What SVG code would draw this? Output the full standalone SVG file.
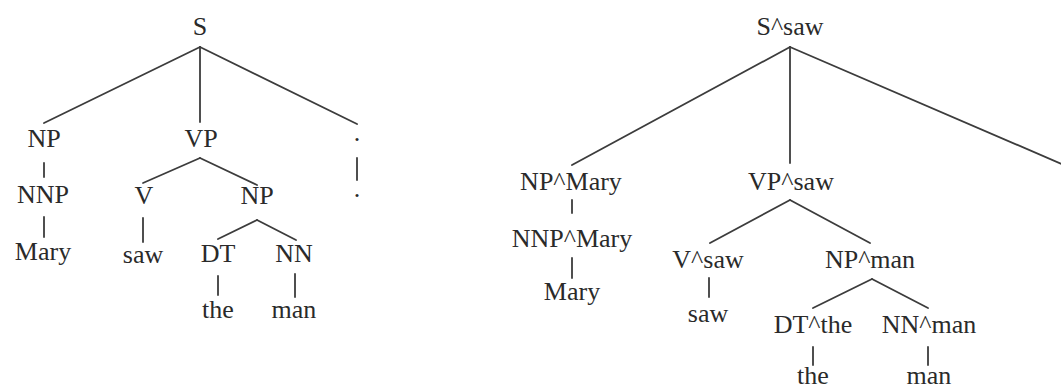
<svg xmlns="http://www.w3.org/2000/svg" width="1061" height="390" viewBox="0 0 1061 390">
  <style>
    .bg { fill: #ffffff; }
    .lbl { font-family: 'Liberation Serif', 'Times New Roman', 'DejaVu Serif', serif; font-size: 26px; fill: #2a2a2a; text-anchor: middle; }
    .edge { stroke: #3c3c3c; stroke-width: 1.8; fill: none; stroke-linecap: round; }
  </style>
  <rect class="bg" x="0" y="0" width="1061" height="390"/>

  <!-- plain parse tree -->
  <g id="connectors-plain">
    <line class="edge" x1="200" y1="47" x2="44" y2="123"/>
    <line class="edge" x1="200" y1="47" x2="200" y2="122"/>
    <line class="edge" x1="200" y1="47" x2="357" y2="124"/>
    <line class="edge" x1="44" y1="163" x2="44" y2="177"/>
    <line class="edge" x1="200" y1="158" x2="143" y2="183"/>
    <line class="edge" x1="200" y1="158" x2="257" y2="185"/>
    <line class="edge" x1="357" y1="158" x2="357" y2="180"/>
    <line class="edge" x1="44" y1="217" x2="44" y2="237"/>
    <line class="edge" x1="143" y1="218" x2="143" y2="242"/>
    <line class="edge" x1="257" y1="220" x2="218" y2="239"/>
    <line class="edge" x1="257" y1="220" x2="296" y2="240"/>
    <line class="edge" x1="218" y1="276" x2="218" y2="295"/>
    <line class="edge" x1="295" y1="274" x2="295" y2="297"/>
  </g>
  <g id="p-S"><text class="lbl" x="200" y="35">S</text></g>
  <g id="p-NP"><text class="lbl" x="44" y="147">NP</text></g>
  <g id="p-VP"><text class="lbl" x="201" y="147">VP</text></g>
  <g id="p-punct"><text class="lbl" x="357" y="141">.</text></g>
  <g id="p-NNP"><text class="lbl" x="43" y="203">NNP</text></g>
  <g id="p-V"><text class="lbl" x="144" y="204">V</text></g>
  <g id="p-NP2"><text class="lbl" x="257" y="204">NP</text></g>
  <g id="p-punct-leaf"><text class="lbl" x="357" y="197">.</text></g>
  <g id="p-Mary"><text class="lbl" x="43" y="260">Mary</text></g>
  <g id="p-saw"><text class="lbl" x="143" y="263">saw</text></g>
  <g id="p-DT"><text class="lbl" x="218" y="262">DT</text></g>
  <g id="p-NN"><text class="lbl" x="294" y="262">NN</text></g>
  <g id="p-the"><text class="lbl" x="218" y="318">the</text></g>
  <g id="p-man"><text class="lbl" x="294" y="318">man</text></g>

  <!-- head-lexicalized parse tree -->
  <g id="connectors-lex">
    <line class="edge" x1="790" y1="47" x2="572" y2="165"/>
    <line class="edge" x1="790" y1="47" x2="790" y2="163"/>
    <line class="edge" x1="790" y1="47" x2="1078" y2="171"/>
    <line class="edge" x1="572" y1="200" x2="572" y2="213"/>
    <line class="edge" x1="572" y1="258" x2="572" y2="278"/>
    <line class="edge" x1="790" y1="200" x2="710" y2="243"/>
    <line class="edge" x1="790" y1="200" x2="870" y2="243"/>
    <line class="edge" x1="709" y1="278" x2="709" y2="297"/>
    <line class="edge" x1="872" y1="279" x2="813" y2="308"/>
    <line class="edge" x1="872" y1="279" x2="928" y2="308"/>
    <line class="edge" x1="813" y1="347" x2="813" y2="365"/>
    <line class="edge" x1="928" y1="347" x2="928" y2="365"/>
  </g>
  <g id="l-S"><text class="lbl" x="790" y="35">S^saw</text></g>
  <g id="l-NP"><text class="lbl" x="571" y="190">NP^Mary</text></g>
  <g id="l-VP"><text class="lbl" x="791" y="190">VP^saw</text></g>
  <g id="l-NNP"><text class="lbl" x="572" y="247">NNP^Mary</text></g>
  <g id="l-Mary"><text class="lbl" x="572" y="300">Mary</text></g>
  <g id="l-V"><text class="lbl" x="708" y="268">V^saw</text></g>
  <g id="l-NP2"><text class="lbl" x="870" y="268">NP^man</text></g>
  <g id="l-saw"><text class="lbl" x="708" y="322">saw</text></g>
  <g id="l-DT"><text class="lbl" x="813" y="333">DT^the</text></g>
  <g id="l-NN"><text class="lbl" x="929" y="333">NN^man</text></g>
  <g id="l-the"><text class="lbl" x="813" y="384">the</text></g>
  <g id="l-man"><text class="lbl" x="929" y="384">man</text></g>
</svg>
